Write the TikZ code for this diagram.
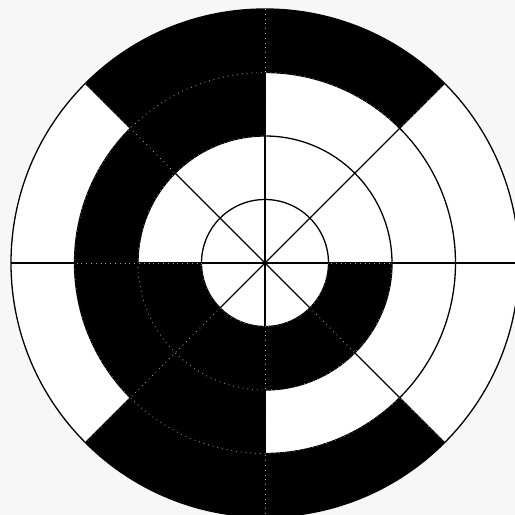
\documentclass[tikz,border=0pt]{standalone}
\begin{document}
\begin{tikzpicture}[x=0.5pt,y=0.5pt,
  ringline/.style={draw=black,line width=0.65pt},
  faintline/.style={draw=gray!70,line width=0.4pt,dotted},
  blackfill/.style={fill=black}]
\useasboundingbox (0,0) rectangle (515,515);
\fill[black!3] (0,0) rectangle (515,515);
\clip (0,0) rectangle (515,515);
\coordinate (O) at (265,252);
\begin{scope}[shift={(O)}]
  \fill[white] (0,0) circle[radius=254];
  % black annular sectors
  \def\sector#1#2#3#4{(#1:#4) arc[start angle=#1,end angle=#2,radius=#4] -- (#2:#3) arc[start angle=#2,end angle=#1,radius=#3] -- cycle}
  \fill[blackfill] \sector{45}{135}{190.5}{254};
  \fill[blackfill] \sector{225}{315}{190.5}{254};
  \fill[blackfill] \sector{90}{270}{127}{190.5};
  \fill[blackfill] \sector{180}{360}{63.5}{127};
  % grid lines
  \foreach \r in {63.5,127,190.5,254} \draw[ringline] (0,0) circle[radius=\r];
  \foreach \a in {0,45,90,135} \draw[ringline] (\a:254) -- (\a+180:254);
  % faint traces over the black parts
  \foreach \a/\b/\ri/\ro in {45/135/190.5/254, 225/315/190.5/254, 90/270/127/190.5, 180/360/63.5/127} {
    \begin{scope}
      \clip \sector{\a}{\b}{\ri}{\ro};
      \foreach \r in {63.5,127,190.5} \draw[faintline] (0,0) circle[radius=\r];
      \foreach \c in {0,45,90,135} \draw[faintline] (\c:254) -- (\c+180:254);
    \end{scope}
  }
\end{scope}
\end{tikzpicture}
\end{document}
